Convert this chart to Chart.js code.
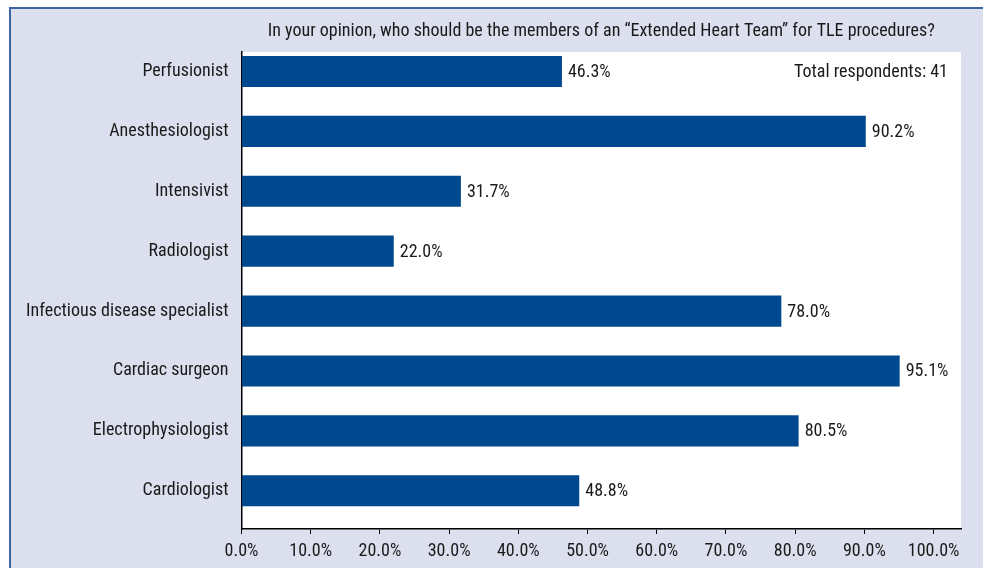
<!DOCTYPE html>
<html><head><meta charset="utf-8">
<script src="https://cdn.jsdelivr.net/npm/chart.js@4"></script>
<style>
html,body{margin:0;padding:0;background:#fff;width:983px;height:568px;overflow:hidden;}
#frame{position:absolute;left:9px;top:7px;width:1000px;height:600px;background:#dcdfee;border-top:2px solid #3d64a3;border-left:2px solid #3d64a3;box-sizing:border-box;}
#c{position:absolute;left:0;top:0;}
</style></head>
<body>
<div id="frame"></div>
<canvas id="c" width="983" height="568"></canvas>
<script>
const categories = ["Perfusionist","Anesthesiologist","Intensivist","Radiologist","Infectious disease specialist","Cardiac surgeon","Electrophysiologist","Cardiologist"];
const values = [46.3, 90.2, 31.7, 22.0, 78.0, 95.1, 80.5, 48.8];
const xTicks = [0,10,20,30,40,50,60,70,80,90,100];
const titleText = "In your opinion, who should be the members of an \u201CExtended Heart Team\u201D for TLE procedures?";
const noteText = "Total respondents: 41";

const FONT = "'Roboto Condensed', 'Liberation Sans', sans-serif";
const TXT = '#1a1a1a';

const areaBg = {
  id:'areaBg',
  beforeDraw(chart){
    const {ctx, chartArea:a} = chart;
    ctx.save(); ctx.fillStyle='#fff'; ctx.fillRect(a.left, a.top, a.right-a.left, a.bottom-a.top); ctx.restore();
  }
};
const texts = {
  id:'texts',
  afterDraw(chart){
    const {ctx, chartArea:a} = chart;
    ctx.save();
    ctx.fillStyle=TXT;
    ctx.font = '18px ' + FONT;
    ctx.textBaseline='middle';
    ctx.textAlign='center';
    ctx.fillText(titleText, (a.left+a.right)/2, 31);
    ctx.textAlign='right';
    ctx.fillText(noteText, 948, 72);
    ctx.textAlign='left';
    const meta = chart.getDatasetMeta(0);
    meta.data.forEach((el,i)=>{
      ctx.fillText(values[i].toFixed(1)+'%', el.x+6, el.y+1);
    });
    ctx.restore();
  }
};

new Chart(document.getElementById('c'), {
  type:'bar',
  data:{datasets:[{data:values.map((v,i)=>({x:v,y:i})), backgroundColor:'#00498f', barPercentage:0.52, categoryPercentage:1}]},
  options:{
    indexAxis:'y', responsive:false, animation:false,
    layout:{padding:{top:52,right:22,left:0,bottom:0}},
    plugins:{legend:{display:false}, tooltip:{enabled:false}, title:{display:false}},
    scales:{
      x:{type:'linear',min:0,max:103.96,
        afterBuildTicks(s){ s.ticks = xTicks.map(v=>({value:v})); },
        afterFit(s){ s.height = 39; },
        grid:{drawOnChartArea:false, drawTicks:true, tickLength:5, color:'#000', lineWidth:1},
        border:{display:true,color:'#000',width:1.5},
        ticks:{color:TXT, font:{family:FONT,size:18}, padding:7, callback:v=>Number(v).toFixed(1)+'%', maxRotation:0, autoSkip:false}
      },
      y:{type:'linear', reverse:true, min:-0.3255, max:7.638, offset:false,
        afterBuildTicks(s){ s.ticks = categories.map((c,i)=>({value:i})); },
        afterFit(s){ s.width = 241.5; },
        grid:{display:false},
        border:{display:true,color:'#000',width:1.5},
        ticks:{color:TXT, font:{family:FONT,size:18}, padding:5, autoSkip:false, callback:v=>categories[v]}
      }
    }
  },
  plugins:[areaBg, texts]
});
</script>
</body></html>
